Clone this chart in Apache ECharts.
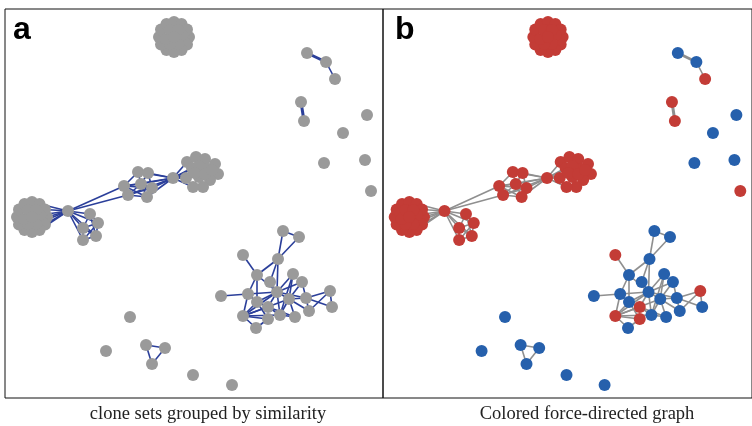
<!DOCTYPE html>
<html>
<head>
<meta charset="utf-8">
<script src="https://cdn.jsdelivr.net/npm/echarts@6/dist/echarts.min.js"></script>
<style>
  html, body { margin: 0; padding: 0; background: #fff; }
  #chart { width: 752px; height: 426px; }
</style>
</head>
<body>
<div id="chart"></div>
<script>
// node layout (panel a pixel space), panel b reuses it shifted by one panel
const nodeNames = [
  'T0', 'T1', 'T2', 'T3', 'T4', 'T5', 'T6', 'T7', 'T8', 'T9', 'T10', 'T11',
  'T12', 'T13', 'T14', 'T15', 'T16', 'T17', 'T18',
  'L0', 'L1', 'L2', 'L3', 'L4', 'L5', 'L6', 'L7', 'L8', 'L9', 'L10', 'L11',
  'L12', 'L13', 'L14', 'L15', 'L16', 'L17', 'L18',
  'H1', 'S1', 'S2', 'S3', 'S4', 'S5',
  'M1', 'M2', 'M3', 'M4', 'M5', 'M6', 'M7', 'H2',
  'R1', 'R2', 'R3', 'R4', 'R5', 'R6', 'R7', 'R8', 'R9', 'R10', 'R11', 'R12', 'R13', 'R14', 'R15', 'R16',
  'P1', 'P2', 'P3', 'Q1', 'Q2', 'X1', 'X2', 'X3', 'X4', 'X5',
  'B1', 'B2', 'B3', 'B4', 'B5', 'B6', 'B7',
  'nA', 'nB', 'nC', 'nD', 'nE', 'nF', 'nG', 'nH', 'nI', 'nJ', 'nK', 'nL',
  'nM', 'nN', 'nO', 'nP', 'nQ', 'nR', 'nS', 'nT', 'nU', 'nV', 'nW'
];
const nodeX = [
  189, 187, 181.5, 174, 166.5, 161, 159, 161, 166.5, 174, 181.5, 187,
  182, 178, 170, 166, 170, 178, 174,
  47, 45, 39.5, 32, 24.5, 19, 17, 19, 24.5, 32, 39.5, 45,
  40, 36, 28, 24, 28, 36, 32,
  68, 90, 98, 83, 96, 83,
  138, 148, 124, 141, 152, 128, 147, 173,
  187, 196, 205, 215, 218, 210, 203, 193, 186, 199, 192, 207, 199, 195, 205, 212,
  307, 326, 335, 301, 304, 367, 343, 324, 365, 371,
  130, 106, 146, 165, 152, 193, 232,
  283, 299, 243, 278, 257, 270, 293, 302, 221, 248, 277, 289,
  306, 330, 257, 268, 309, 332, 243, 280, 295, 268, 256
];
const nodeY = [
  37, 44.5, 50, 52, 50, 44.5, 37, 29.5, 24, 22, 24, 29.5,
  35, 44, 44, 39, 30, 30, 37,
  217, 224.5, 230, 232, 230, 224.5, 217, 209.5, 204, 202, 204, 209.5,
  215, 224, 224, 219, 210, 210, 217,
  211, 214, 223, 228, 236, 240,
  172, 173, 186, 184, 188, 195, 197, 178,
  162, 157, 159, 164, 174, 180, 187, 187, 178, 177, 168, 169, 166, 173, 174, 170,
  53, 62, 79, 102, 121, 115, 133, 163, 160, 191,
  317, 351, 345, 348, 364, 375, 385,
  231, 237, 255, 259, 275, 282, 274, 282, 296, 294, 292, 299,
  298, 291, 302, 307, 311, 307, 316, 315, 317, 319, 328
];
// colour class used in panel b: r = red, b = blue
const nodeClass = [
  'r', 'r', 'r', 'r', 'r', 'r', 'r', 'r', 'r', 'r', 'r', 'r',
  'r', 'r', 'r', 'r', 'r', 'r', 'r',
  'r', 'r', 'r', 'r', 'r', 'r', 'r', 'r', 'r', 'r', 'r', 'r',
  'r', 'r', 'r', 'r', 'r', 'r', 'r',
  'r', 'r', 'r', 'r', 'r', 'r',
  'r', 'r', 'r', 'r', 'r', 'r', 'r', 'r',
  'r', 'r', 'r', 'r', 'r', 'r', 'r', 'r', 'r', 'r', 'r', 'r', 'r', 'r', 'r', 'r',
  'b', 'b', 'r', 'r', 'r', 'b', 'b', 'b', 'b', 'r',
  'b', 'b', 'b', 'b', 'b', 'b', 'b',
  'b', 'b', 'r', 'b', 'b', 'b', 'b', 'b', 'b', 'b', 'b', 'b',
  'b', 'r', 'b', 'r', 'b', 'b', 'r', 'b', 'b', 'r', 'b'
];

const edgeList = [
  ['L0', 'L18'], ['L1', 'L16'], ['L9', 'L14'],
  ['H1', 'L0'], ['H1', 'L1'], ['H1', 'L11'], ['H1', 'L10'], ['H1', 'L2'], ['H1', 'L12'], ['H1', 'L13'],
  ['H1', 'S1'], ['H1', 'S2'], ['H1', 'S3'], ['H1', 'S4'], ['H1', 'S5'],
  ['S1', 'S2'], ['S1', 'S3'], ['S2', 'S3'], ['S2', 'S4'], ['S3', 'S4'], ['S3', 'S5'],
  ['S4', 'S5'], ['S2', 'S5'], ['S1', 'S4'],
  ['H1', 'M3'], ['H1', 'M6'],
  ['M1', 'M3'], ['M1', 'M4'], ['M2', 'M4'], ['M3', 'M4'], ['M3', 'M6'], ['M4', 'M6'], ['M4', 'M5'],
  ['M5', 'M7'], ['M6', 'M7'], ['M4', 'M7'], ['M3', 'M5'], ['M1', 'M2'], ['M2', 'M5'], ['M3', 'M7'], ['M6', 'M5'],
  ['H2', 'M1'], ['H2', 'M2'], ['H2', 'M4'], ['H2', 'M5'], ['H2', 'M7'], ['H2', 'M6'], ['H2', 'M3'],
  ['H2', 'R1'], ['H2', 'R9'], ['H2', 'R11'], ['H2', 'R8'], ['H2', 'R10'], ['H2', 'R13'], ['H2', 'R14'],
  ['R11', 'R10'], ['R13', 'R12'], ['R10', 'R6'], ['R11', 'R12'],
  ['P1', 'P2'], ['P2', 'P3'], ['Q1', 'Q2'],
  ['B3', 'B4'], ['B3', 'B5'], ['B4', 'B5'],
  ['nA', 'nB'], ['nA', 'nD'], ['nB', 'nD'], ['nC', 'nE'], ['nD', 'nE'], ['nD', 'nK'], ['nD', 'nF'],
  ['nE', 'nJ'], ['nE', 'nO'], ['nE', 'nK'], ['nI', 'nJ'], ['nJ', 'nK'], ['nJ', 'nO'], ['nJ', 'nS'],
  ['nF', 'nK'], ['nG', 'nK'], ['nG', 'nL'], ['nG', 'nT'], ['nH', 'nK'], ['nH', 'nL'], ['nK', 'nL'],
  ['nK', 'nM'], ['nK', 'nO'], ['nK', 'nP'], ['nK', 'nT'], ['nK', 'nS'], ['nL', 'nM'], ['nL', 'nU'],
  ['nL', 'nT'], ['nM', 'nN'], ['nM', 'nQ'], ['nM', 'nR'], ['nN', 'nR'], ['nN', 'nQ'], ['nL', 'nQ'],
  ['nS', 'nO'], ['nS', 'nP'], ['nS', 'nV'], ['nS', 'nW'], ['nS', 'nT'], ['nO', 'nP'], ['nO', 'nV'],
  ['nP', 'nT'], ['nV', 'nW'], ['nT', 'nU'], ['nP', 'nU'], ['nH', 'nM'], ['nS', 'nL']
];
// the two short pairs on the right are drawn with a heavier stroke
const heavyEdges = ['P1-P2', 'Q1-Q2'];

const captions = ['clone sets grouped by similarity', 'Colored force-directed graph'];
const panelLetters = ['a', 'b'];

const GRAY = '#9a9a9a';
const RED = '#c33c36';
const BLUE = '#2660ac';

function makeNodes(colored) {
  return nodeNames.map((name, i) => ({
    name: name,
    value: [nodeX[i], nodeY[i]],
    itemStyle: { color: colored ? (nodeClass[i] === 'r' ? RED : BLUE) : GRAY }
  }));
}

const links = edgeList.map((e) => {
  const heavy = heavyEdges.indexOf(e[0] + '-' + e[1]) >= 0;
  return heavy ? { source: e[0], target: e[1], lineStyle: { width: 3 } } : { source: e[0], target: e[1] };
});

function graphSeries(idx, colored, edgeColor) {
  return {
    type: 'graph',
    coordinateSystem: 'cartesian2d',
    xAxisIndex: idx,
    yAxisIndex: idx,
    symbol: 'circle',
    symbolSize: 12,
    silent: true,
    animation: false,
    label: { show: false },
    data: makeNodes(colored),
    links: links,
    lineStyle: { color: edgeColor, width: 1.6, opacity: 1, curveness: 0 },
    emphasis: { disabled: true }
  };
}

const chart = echarts.init(document.getElementById('chart'));
chart.setOption({
  backgroundColor: '#fff',
  animation: false,
  grid: [
    { left: 5, top: 9, width: 378, height: 389, show: true, borderColor: '#111', borderWidth: 1 },
    { left: 383, top: 9, width: 378, height: 389, show: true, borderColor: '#111', borderWidth: 1 }
  ],
  xAxis: [0, 1].map((i) => ({ type: 'value', gridIndex: i, min: 5, max: 383, show: false })),
  yAxis: [0, 1].map((i) => ({ type: 'value', gridIndex: i, min: 9, max: 398, inverse: true, show: false })),
  graphic: [
    { type: 'text', left: 13, top: 14, style: { text: panelLetters[0], font: 'bold 32px "Liberation Sans", Arial, sans-serif', fill: '#000' } },
    { type: 'text', left: 395, top: 14, style: { text: panelLetters[1], font: 'bold 32px "Liberation Sans", Arial, sans-serif', fill: '#000' } },
    { type: 'text', x: 208, y: 414, style: { text: captions[0], font: '18.5px "Liberation Serif", serif', fill: '#222', align: 'center', verticalAlign: 'middle' } },
    { type: 'text', x: 587, y: 414, style: { text: captions[1], font: '18.5px "Liberation Serif", serif', fill: '#222', align: 'center', verticalAlign: 'middle' } }
  ],
  series: [
    graphSeries(0, false, '#2b3f9a'),
    graphSeries(1, true, '#8f8f8f')
  ]
});
</script>
</body>
</html>
